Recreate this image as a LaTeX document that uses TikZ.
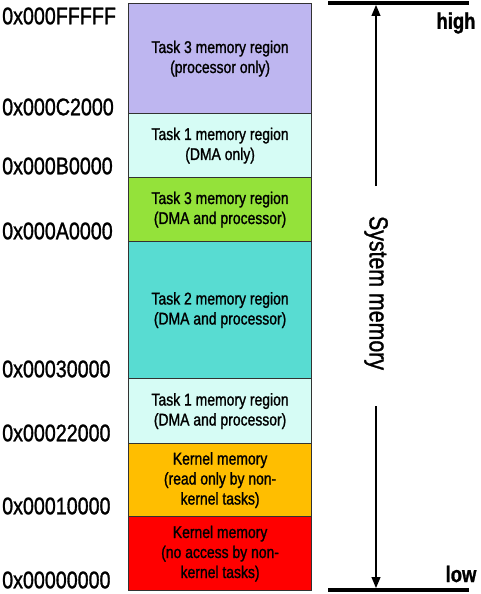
\documentclass[tikz,border=0pt]{standalone}
\usepackage{fontspec}
\setmainfont{Liberation Sans}[FakeStretch=0.82, FakeBold=1.2]
\usetikzlibrary{arrows.meta}
\definecolor{cLav}{RGB}{190,182,240}
\definecolor{cIce}{RGB}{214,252,245}
\definecolor{cGrn}{RGB}{148,226,58}
\definecolor{cTeal}{RGB}{88,220,210}
\definecolor{cOra}{RGB}{255,190,0}
\definecolor{cRed}{RGB}{255,0,0}
\definecolor{cEdge}{RGB}{50,50,50}
\tikzset{
  region/.style={draw=cEdge, line width=1.2pt, anchor=north west, minimum width=183pt,
    inner sep=0pt, align=center, font=\fontsize{17}{20}\selectfont},
  addr/.style={anchor=west, inner sep=0pt, font=\fontsize{24}{26}\selectfont},
  bar/.style={line width=3.5pt},
  marker/.style={anchor=center, inner sep=0pt, font=\fontsize{22.5}{24}\selectfont\bfseries},
  sysarrow/.style={line width=1.2pt, -{Triangle[length=11pt,width=9pt]}}
}
\begin{document}
\begin{tikzpicture}[x=1pt,y=-1pt]
\useasboundingbox (0,0) rectangle (480,594);
% memory regions
\node[region, fill=cLav,  minimum height=110pt] (r1) at (128,3)   {Task 3 memory region\\(processor only)};
\node[region, fill=cIce,  minimum height=64pt]  (r2) at (128,113) {Task 1 memory region\\(DMA only)};
\node[region, fill=cGrn,  minimum height=64pt]  (r3) at (128,177) {Task 3 memory region\\(DMA and processor)};
\node[region, fill=cTeal, minimum height=137pt] (r4) at (128,241) {Task 2 memory region\\(DMA and processor)};
\node[region, fill=cIce,  minimum height=65pt]  (r5) at (128,378) {Task 1 memory region\\(DMA and processor)};
\node[region, fill=cOra,  minimum height=73pt]  (r6) at (128,443) {Kernel memory\\(read only by non-\\kernel tasks)};
\node[region, fill=cRed,  minimum height=74pt]  (r7) at (128,516) {Kernel memory\\(no access by non-\\kernel tasks)};
% addresses
\node[addr] (a1) at (2,16)  {0x000FFFFF};
\node[addr] (a2) at (2,107) {0x000C2000};
\node[addr] (a3) at (2,166) {0x000B0000};
\node[addr] (a4) at (2,231) {0x000A0000};
\node[addr] (a5) at (2,369) {0x00030000};
\node[addr] (a6) at (2,433) {0x00022000};
\node[addr] (a7) at (2,506) {0x00010000};
\node[addr] (a8) at (2,580) {0x00000000};
% system memory scale
\coordinate (tl) at (328,3);
\coordinate (tr) at (469,3);
\coordinate (bl) at (328,590);
\coordinate (br) at (469,590);
\draw[bar] (tl) -- (tr);
\draw[bar] (bl) -- (br);
\node[rotate=-90, inner sep=0pt, font=\fontsize{26}{28}\selectfont] (sys) at (376,293) {System memory};
\coordinate (up0) at (376,186);
\coordinate (up1) at (376,5);
\coordinate (dn0) at (376,406);
\coordinate (dn1) at (376,588);
\draw[sysarrow] (up0) -- (up1);
\draw[sysarrow] (dn0) -- (dn1);
\node[marker] (hi) at (456,23) {high};
\node[marker] (lo) at (461,574) {low};
\end{tikzpicture}
\end{document}
